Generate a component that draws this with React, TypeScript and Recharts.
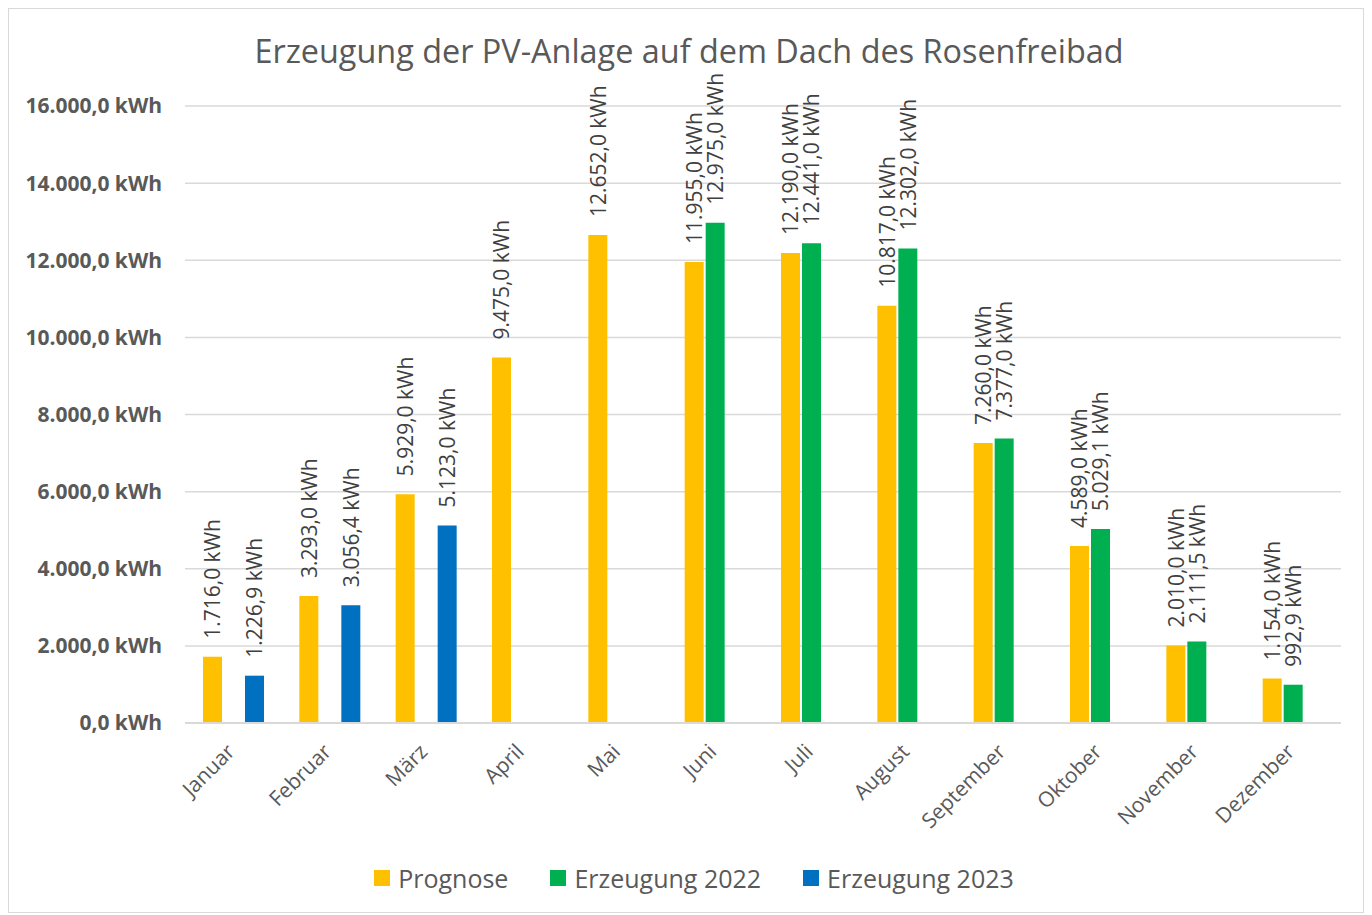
import { BarChart, Bar, XAxis, YAxis, CartesianGrid, Legend, LabelList } from 'recharts'

const months = ['Januar', 'Februar', 'März', 'April', 'Mai', 'Juni', 'Juli', 'August', 'September', 'Oktober', 'November', 'Dezember']
const prognose = [1716, 3293, 5929, 9475, 12652, 11955, 12190, 10817, 7260, 4589, 2010, 1154]
const erzeugung2022 = [null, null, null, null, null, 12975, 12441, 12302, 7377, 5029.1, 2111.5, 992.9]
const erzeugung2023 = [1226.9, 3056.4, 5123, null, null, null, null, null, null, null, null, null]
const yTicks = [0, 2000, 4000, 6000, 8000, 10000, 12000, 14000, 16000]

const FONT = '"Open Sans", sans-serif'

const data = months.map((m, i) => ({
    month: m,
    prognose: prognose[i],
    e2022: erzeugung2022[i],
    e2023: erzeugung2023[i],
}))

function fmt(v: number) {
    const [int, dec] = v.toFixed(1).split('.')
    return int.replace(/\B(?=(\d{3})+(?!\d))/g, '.') + ',' + dec + ' kWh'
}

const renderLabel = (props: any) => {
    const { x, y, width, value } = props
    if (value == null) return null
    const cx = Number(x) + Number(width) / 2
    const ty = Number(y) - 18
    return (
        <text
            x={cx}
            y={ty}
            transform={`rotate(-90, ${cx}, ${ty})`}
            textAnchor="start"
            dominantBaseline="central"
            fill="#404040"
            fontSize={21}
            fontFamily={FONT}
        >
            {fmt(Number(value))}
        </text>
    )
}

const XTick = (props: any) => {
    const { x, y, payload } = props
    const tx = x + 3
    const ty = y + 22
    return (
        <text
            x={tx}
            y={ty}
            transform={`rotate(-45, ${tx}, ${ty})`}
            textAnchor="end"
            fill="#595959"
            fontSize={21}
            fontFamily={FONT}
        >
            {payload.value}
        </text>
    )
}

const legendItems = [
    { name: 'Prognose', color: '#FFC000' },
    { name: 'Erzeugung 2022', color: '#00B050' },
    { name: 'Erzeugung 2023', color: '#0070C0' },
]

const LegendContent = () => (
    <div
        style={{
            display: 'flex',
            justifyContent: 'center',
            alignItems: 'center',
            height: 40,
            gap: 42,
            paddingLeft: 38,
            boxSizing: 'border-box',
        }}
    >
        {legendItems.map(it => (
            <div key={it.name} style={{ display: 'flex', alignItems: 'center', gap: 8 }}>
                <span style={{ width: 16, height: 16, background: it.color, display: 'inline-block' }} />
                <span style={{ fontSize: 25, color: '#595959', fontFamily: FONT }}>{it.name}</span>
            </div>
        ))}
    </div>
)

export default function App() {
    return (
        <div
            style={{
                position: 'relative',
                width: 1356,
                height: 905,
                border: '1px solid #D9D9D9',
                boxSizing: 'border-box',
                background: '#fff',
                fontFamily: FONT,
            }}
        >
            <div
                style={{
                    position: 'absolute',
                    top: 19,
                    left: 3,
                    width: '100%',
                    textAlign: 'center',
                    fontSize: 32.4,
                    color: '#595959',
                    zIndex: 1,
                }}
            >
                Erzeugung der PV-Anlage auf dem Dach des Rosenfreibad
            </div>
            <BarChart
                width={1354}
                height={903}
                data={data}
                margin={{ top: 97, right: 22, left: 0, bottom: 14 }}
                barSize={19}
                barGap={2}
            >
                <CartesianGrid vertical={false} stroke="#D9D9D9" strokeWidth={1.5} />
                <XAxis
                    dataKey="month"
                    height={135}
                    interval={0}
                    tickLine={false}
                    axisLine={{ stroke: '#D9D9D9', strokeWidth: 2 }}
                    tick={<XTick />}
                />
                <YAxis
                    width={176}
                    domain={[0, 16000]}
                    ticks={yTicks}
                    axisLine={false}
                    tickLine={false}
                    tickSize={0}
                    tickMargin={23}
                    tickFormatter={v => fmt(v)}
                    tick={{ fill: '#595959', fontSize: 21, fontWeight: 700, fontFamily: FONT }}
                />
                <Legend verticalAlign="bottom" content={<LegendContent />} />
                <Bar dataKey="prognose" name="Prognose" fill="#FFC000" isAnimationActive={false}>
                    <LabelList dataKey="prognose" content={renderLabel} />
                </Bar>
                <Bar dataKey="e2022" name="Erzeugung 2022" fill="#00B050" isAnimationActive={false}>
                    <LabelList dataKey="e2022" content={renderLabel} />
                </Bar>
                <Bar dataKey="e2023" name="Erzeugung 2023" fill="#0070C0" isAnimationActive={false}>
                    <LabelList dataKey="e2023" content={renderLabel} />
                </Bar>
            </BarChart>
        </div>
    )
}
